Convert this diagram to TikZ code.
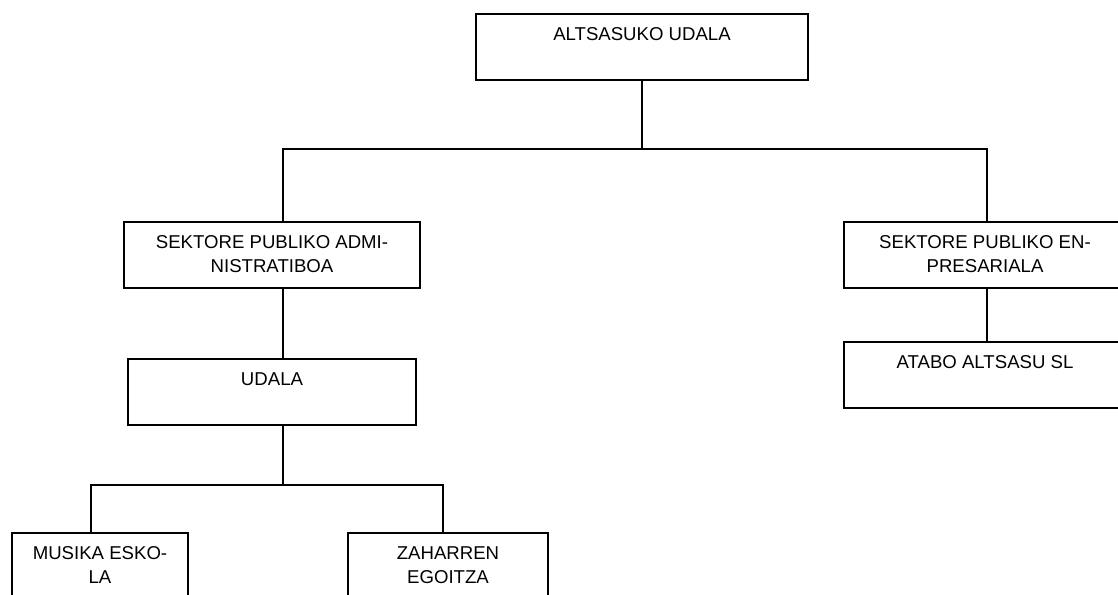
\documentclass[tikz,border=0pt]{standalone}
\usepackage{fontspec}
\setmainfont{Liberation Sans}
\begin{document}
\begin{tikzpicture}[x=0.5pt, y=-0.5pt, line width=1pt,
  unit/.style={shape=rectangle, draw=black, anchor=north west, align=center,
    inner xsep=2pt, inner ysep=0pt, minimum height=33pt,
    text height=13.25pt, text depth=19.75pt,
    font=\fontsize{9.3}{12}\selectfont},
  twoline/.style={text height=25.25pt, text depth=7.75pt}]
\useasboundingbox (0,0) rectangle (1118,594);
% boxes
\node[unit, minimum width=166pt](0) at (475,13) {ALTSASUKO UDALA};
\node[unit, twoline, minimum width=148pt](1) at (123,221) {SEKTORE PUBLIKO ADMI-\\NISTRATIBOA};
\node[unit, twoline, minimum width=141pt](2) at (843,221) {SEKTORE PUBLIKO EN-\\PRESARIALA};
\node[unit, minimum width=144pt](3) at (127,358) {UDALA};
\node[unit, minimum width=141pt](4) at (843,341) {ATABO ALTSASU SL};
\node[unit, twoline, minimum width=88pt](5) at (11,532) {MUSIKA ESKO-\\LA};
\node[unit, twoline, minimum width=100pt](6) at (347,532) {ZAHARREN\\EGOITZA};
% connectors
\coordinate (a) at (283,149);
\coordinate (b) at (987,149);
\coordinate (c) at (283,485);
\coordinate (d) at (91,485);
\coordinate (e) at (443,485);
\draw (0.south) -- (0.south |- a);
\draw (1.north -| a) -- (a) -- (b) -- (2.north -| b);
\draw (1.south -| a) -- (3.north -| a);
\draw (2.south -| b) -- (4.north -| b);
\draw (3.south -| c) -- (c);
\draw (5.north -| d) -- (d) -- (e) -- (6.north -| e);
\end{tikzpicture}
\end{document}
